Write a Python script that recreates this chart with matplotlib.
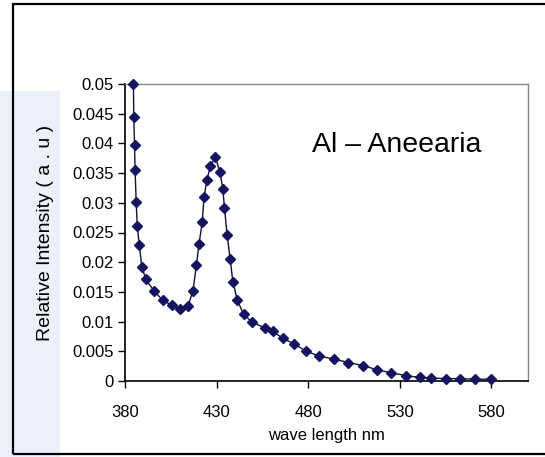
import matplotlib
matplotlib.use("Agg")
import matplotlib.pyplot as plt
from matplotlib.patches import Rectangle

# wavelength (nm) and relative intensity
wavelength = [384.6, 384.8, 385.2, 385.5, 386.1, 386.7, 387.8, 389.2, 391.4,
              395.8, 400.5, 405.4, 409.9, 414.4, 417.1, 419.0, 420.4, 422.2,
              423.1, 424.7, 426.6, 429.3, 431.8, 433.4, 434.3, 435.8, 437.4,
              438.9, 441.3, 444.8, 449.4, 456.6, 460.7, 466.0, 472.0, 479.0,
              486.0, 494.0, 502.0, 510.0, 517.4, 525.0, 533.5, 541.0, 547.0,
              555.0, 563.0, 571.0, 580.0]
intensity = [0.0500, 0.0444, 0.0397, 0.0355, 0.0302, 0.0261, 0.0229, 0.0192,
             0.0171, 0.0152, 0.0136, 0.0128, 0.0122, 0.0126, 0.0152, 0.0195,
             0.0231, 0.0268, 0.0309, 0.0338, 0.0362, 0.0377, 0.0352, 0.0324,
             0.0291, 0.0245, 0.0205, 0.0167, 0.0136, 0.0112, 0.0099, 0.0089,
             0.0084, 0.0072, 0.0063, 0.0050, 0.0042, 0.0037, 0.0031, 0.0026,
             0.0019, 0.0014, 0.0009, 0.0006, 0.0005, 0.0004, 0.0004, 0.0003,
             0.0003]

x_ticks = [380, 430, 480, 530, 580]
y_ticks = [0, 0.005, 0.01, 0.015, 0.02, 0.025, 0.03, 0.035, 0.04, 0.045, 0.05]
y_labels = ["0", "0.005", "0.01", "0.015", "0.02", "0.025", "0.03",
            "0.035", "0.04", "0.045", "0.05"]

font = ["Liberation Sans", "DejaVu Sans"]

fig = plt.figure(figsize=(5.45, 4.57), dpi=100)
fig.patch.set_facecolor("white")

# faint blue slide background on the left
fig.patches.append(Rectangle((0, 0.0), 0.11, 0.80, transform=fig.transFigure,
                             facecolor="#ecf1f9", edgecolor="none", zorder=-1))
# outer black frame
fig.patches.append(Rectangle((13 / 545, 3 / 457), 1.0, 450 / 457,
                             transform=fig.transFigure, fill=False,
                             edgecolor="black", linewidth=1.6, zorder=5))

ax = fig.add_axes([125 / 545, 1 - 381 / 457, 403 / 545, 297 / 457])
ax.set_facecolor("white")
ax.plot(wavelength, intensity, color="#111133", linewidth=1.0,
        marker="D", markersize=5, markerfacecolor="#141460",
        markeredgecolor="#141460", clip_on=False, zorder=3)

ax.set_xlim(380, 600)
ax.set_ylim(0, 0.05)
ax.set_xticks(x_ticks)
ax.set_xticklabels([str(v) for v in x_ticks], fontfamily=font, fontsize=12)
ax.set_yticks(y_ticks)
ax.set_yticklabels(y_labels, fontfamily=font, fontsize=12)
ax.tick_params(direction="out", length=5, width=1, color="black")
ax.tick_params(axis="x", pad=12)
ax.tick_params(axis="y", pad=3)

for side in ["left", "bottom"]:
    ax.spines[side].set_color("black")
    ax.spines[side].set_linewidth(1.2)
for side in ["top", "right"]:
    ax.spines[side].set_color("#888888")
    ax.spines[side].set_linewidth(1.0)

ax.set_xlabel("wave length nm", fontfamily=font, fontsize=12, labelpad=6)
ax.set_ylabel("Relative Intensity ( a . u )", fontfamily=font, fontsize=14,
              labelpad=13)

ax.text(0.464, 0.795, "Al \u2013 Aneearia", transform=ax.transAxes,
        fontfamily=font, fontsize=20.5, color="black",
        ha="left", va="center")

fig.savefig("out.png", dpi=100)
